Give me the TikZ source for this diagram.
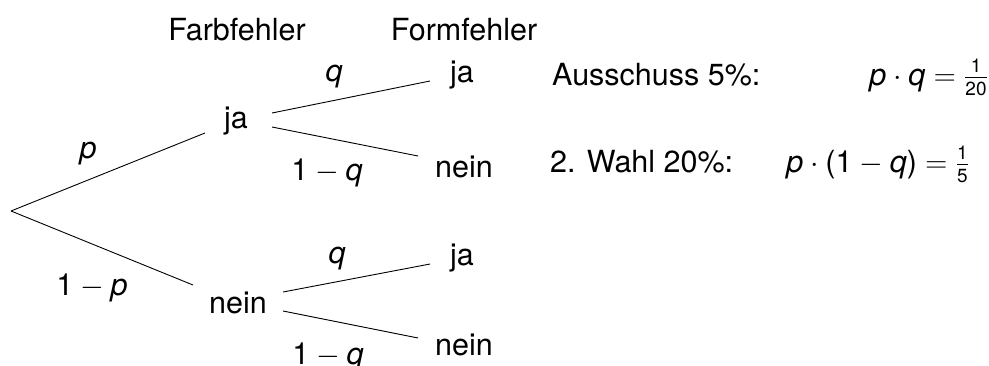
\RequirePackage{fix-cm}
\documentclass[tikz,border=0pt]{standalone}
\usepackage{fontspec}
\setmainfont{TeX Gyre Heros}
\newcommand\vp{\mbox{\itshape p}}
\newcommand\vq{\mbox{\itshape q}}
\newcommand\one{\mbox{1}}
\newcommand\lpar{\mathopen{\mbox{(}}}
\newcommand\rpar{\mathclose{\mbox{)}}}
\newcommand\smfr[2]{\frac{\hbox{\fontsize{19}{22}\selectfont #1}}{\hbox{\fontsize{19}{22}\selectfont #2}}}
\begin{document}
\begin{tikzpicture}[x=1pt,y=-1pt,
  every node/.style={inner sep=0pt,font=\fontsize{30.5}{36}\selectfont},
  lbl/.style={anchor=base},
  br/.style={draw=black,line width=0.9pt}]
\useasboundingbox (0,0) rectangle (989,365);
% headers
\node[lbl] (hfarb) at (237,40) {Farbfehler};
\node[lbl] (hform) at (464,40) {Formfehler};
% nodes
\coordinate (root) at (11,211);
\node[lbl] (ja1) at (236,128) {ja};
\node[lbl] (nein1) at (238,313) {nein};
\node[lbl] (ja2a) at (462,82) {ja};
\node[lbl] (nein2a) at (464,177) {nein};
\node[lbl] (ja2b) at (462,265) {ja};
\node[lbl] (nein2b) at (464,355) {nein};
% connectors
\coordinate (r1) at (205,133);
\coordinate (r2) at (193,285);
\draw[br] (root) -- (r1);
\draw[br] (root) -- (r2);
\draw[br] (272,113) coordinate (a1) -- (430,81) coordinate (a2);
\draw[br] (272,127) coordinate (b1) -- (418,156) coordinate (b2);
\draw[br] (283,292) coordinate (c1) -- (430,264) coordinate (c2);
\draw[br] (283,311) coordinate (d1) -- (418,338) coordinate (d2);
% edge labels
\node[lbl] (lp) at (88,158) {$\vp$};
\node[lbl] (l1p) at (92,295) {$\one-\vp$};
\node[lbl] (lqa) at (334,81) {$\vq$};
\node[lbl] (l1qa) at (327,180) {$\one-\vq$};
\node[lbl] (lqb) at (337,263) {$\vq$};
\node[lbl] (l1qb) at (328,364) {$\one-\vq$};
% right side
\node[anchor=base west] (aus) at (552,85) {Ausschuss 5\%:};
\node[anchor=base east] (faus) at (988,85) {$\vp\cdot\vq=\smfr{1}{20}$};
\node[anchor=base west] (wahl) at (550,172) {2. Wahl 20\%:};
\node[anchor=base east] (fwahl) at (969,172) {$\vp\cdot\lpar\one-\vq\rpar=\smfr{1}{5}$};
\end{tikzpicture}
\end{document}
